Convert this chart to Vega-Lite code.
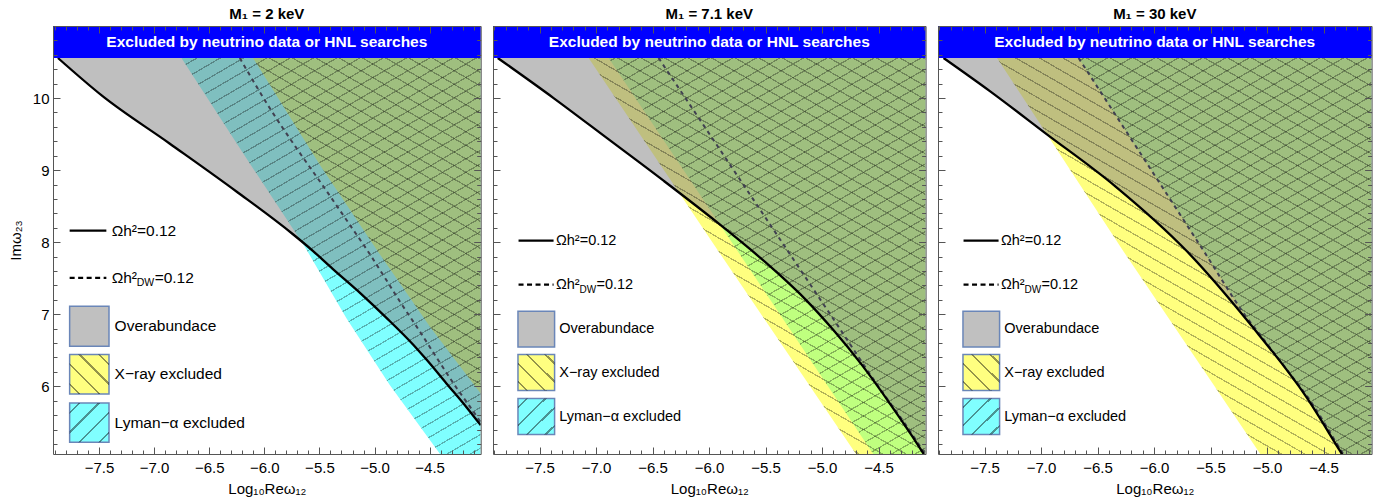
{
"$schema": "https://vega.github.io/schema/vega-lite/v6.json",
"padding": {"left": 8, "top": 6, "right": 5, "bottom": 3},
"background": "white",
"spacing": 12,
"bounds": "flush",
"params": [
{"name": "gF", "value": {"gradient": "linear", "x1": 0, "y1": 0, "x2": 0.6872, "y2": 1.1819, "stops": [
{"offset":0.01,"color":"transparent"},{"offset":0.01,"color":"rgba(0,0,0,.3)"},{"offset":0.0121,"color":"rgba(0,0,0,.3)"},{"offset":0.0121,"color":"transparent"},
{"offset":0.03,"color":"transparent"},{"offset":0.03,"color":"rgba(0,0,0,.3)"},{"offset":0.0321,"color":"rgba(0,0,0,.3)"},{"offset":0.0321,"color":"transparent"},
{"offset":0.05,"color":"transparent"},{"offset":0.05,"color":"rgba(0,0,0,.3)"},{"offset":0.0521,"color":"rgba(0,0,0,.3)"},{"offset":0.0521,"color":"transparent"},
{"offset":0.07,"color":"transparent"},{"offset":0.07,"color":"rgba(0,0,0,.3)"},{"offset":0.0721,"color":"rgba(0,0,0,.3)"},{"offset":0.0721,"color":"transparent"},
{"offset":0.09,"color":"transparent"},{"offset":0.09,"color":"rgba(0,0,0,.3)"},{"offset":0.0921,"color":"rgba(0,0,0,.3)"},{"offset":0.0921,"color":"transparent"},
{"offset":0.11,"color":"transparent"},{"offset":0.11,"color":"rgba(0,0,0,.3)"},{"offset":0.1121,"color":"rgba(0,0,0,.3)"},{"offset":0.1121,"color":"transparent"},
{"offset":0.13,"color":"transparent"},{"offset":0.13,"color":"rgba(0,0,0,.3)"},{"offset":0.1321,"color":"rgba(0,0,0,.3)"},{"offset":0.1321,"color":"transparent"},
{"offset":0.15,"color":"transparent"},{"offset":0.15,"color":"rgba(0,0,0,.3)"},{"offset":0.1521,"color":"rgba(0,0,0,.3)"},{"offset":0.1521,"color":"transparent"},
{"offset":0.17,"color":"transparent"},{"offset":0.17,"color":"rgba(0,0,0,.3)"},{"offset":0.1721,"color":"rgba(0,0,0,.3)"},{"offset":0.1721,"color":"transparent"},
{"offset":0.19,"color":"transparent"},{"offset":0.19,"color":"rgba(0,0,0,.3)"},{"offset":0.1921,"color":"rgba(0,0,0,.3)"},{"offset":0.1921,"color":"transparent"},
{"offset":0.21,"color":"transparent"},{"offset":0.21,"color":"rgba(0,0,0,.3)"},{"offset":0.2121,"color":"rgba(0,0,0,.3)"},{"offset":0.2121,"color":"transparent"},
{"offset":0.23,"color":"transparent"},{"offset":0.23,"color":"rgba(0,0,0,.3)"},{"offset":0.2321,"color":"rgba(0,0,0,.3)"},{"offset":0.2321,"color":"transparent"},
{"offset":0.25,"color":"transparent"},{"offset":0.25,"color":"rgba(0,0,0,.3)"},{"offset":0.2521,"color":"rgba(0,0,0,.3)"},{"offset":0.2521,"color":"transparent"},
{"offset":0.27,"color":"transparent"},{"offset":0.27,"color":"rgba(0,0,0,.3)"},{"offset":0.2721,"color":"rgba(0,0,0,.3)"},{"offset":0.2721,"color":"transparent"},
{"offset":0.29,"color":"transparent"},{"offset":0.29,"color":"rgba(0,0,0,.3)"},{"offset":0.2921,"color":"rgba(0,0,0,.3)"},{"offset":0.2921,"color":"transparent"},
{"offset":0.31,"color":"transparent"},{"offset":0.31,"color":"rgba(0,0,0,.3)"},{"offset":0.3121,"color":"rgba(0,0,0,.3)"},{"offset":0.3121,"color":"transparent"},
{"offset":0.33,"color":"transparent"},{"offset":0.33,"color":"rgba(0,0,0,.3)"},{"offset":0.3321,"color":"rgba(0,0,0,.3)"},{"offset":0.3321,"color":"transparent"},
{"offset":0.35,"color":"transparent"},{"offset":0.35,"color":"rgba(0,0,0,.3)"},{"offset":0.3521,"color":"rgba(0,0,0,.3)"},{"offset":0.3521,"color":"transparent"},
{"offset":0.37,"color":"transparent"},{"offset":0.37,"color":"rgba(0,0,0,.3)"},{"offset":0.3721,"color":"rgba(0,0,0,.3)"},{"offset":0.3721,"color":"transparent"},
{"offset":0.39,"color":"transparent"},{"offset":0.39,"color":"rgba(0,0,0,.3)"},{"offset":0.3921,"color":"rgba(0,0,0,.3)"},{"offset":0.3921,"color":"transparent"},
{"offset":0.41,"color":"transparent"},{"offset":0.41,"color":"rgba(0,0,0,.3)"},{"offset":0.4121,"color":"rgba(0,0,0,.3)"},{"offset":0.4121,"color":"transparent"},
{"offset":0.43,"color":"transparent"},{"offset":0.43,"color":"rgba(0,0,0,.3)"},{"offset":0.4321,"color":"rgba(0,0,0,.3)"},{"offset":0.4321,"color":"transparent"},
{"offset":0.45,"color":"transparent"},{"offset":0.45,"color":"rgba(0,0,0,.3)"},{"offset":0.4521,"color":"rgba(0,0,0,.3)"},{"offset":0.4521,"color":"transparent"},
{"offset":0.47,"color":"transparent"},{"offset":0.47,"color":"rgba(0,0,0,.3)"},{"offset":0.4721,"color":"rgba(0,0,0,.3)"},{"offset":0.4721,"color":"transparent"},
{"offset":0.49,"color":"transparent"},{"offset":0.49,"color":"rgba(0,0,0,.3)"},{"offset":0.4921,"color":"rgba(0,0,0,.3)"},{"offset":0.4921,"color":"transparent"},
{"offset":0.51,"color":"transparent"},{"offset":0.51,"color":"rgba(0,0,0,.3)"},{"offset":0.5121,"color":"rgba(0,0,0,.3)"},{"offset":0.5121,"color":"transparent"},
{"offset":0.53,"color":"transparent"},{"offset":0.53,"color":"rgba(0,0,0,.3)"},{"offset":0.5321,"color":"rgba(0,0,0,.3)"},{"offset":0.5321,"color":"transparent"},
{"offset":0.55,"color":"transparent"},{"offset":0.55,"color":"rgba(0,0,0,.3)"},{"offset":0.5521,"color":"rgba(0,0,0,.3)"},{"offset":0.5521,"color":"transparent"},
{"offset":0.57,"color":"transparent"},{"offset":0.57,"color":"rgba(0,0,0,.3)"},{"offset":0.5721,"color":"rgba(0,0,0,.3)"},{"offset":0.5721,"color":"transparent"},
{"offset":0.59,"color":"transparent"},{"offset":0.59,"color":"rgba(0,0,0,.3)"},{"offset":0.5921,"color":"rgba(0,0,0,.3)"},{"offset":0.5921,"color":"transparent"},
{"offset":0.61,"color":"transparent"},{"offset":0.61,"color":"rgba(0,0,0,.3)"},{"offset":0.6121,"color":"rgba(0,0,0,.3)"},{"offset":0.6121,"color":"transparent"},
{"offset":0.63,"color":"transparent"},{"offset":0.63,"color":"rgba(0,0,0,.3)"},{"offset":0.6321,"color":"rgba(0,0,0,.3)"},{"offset":0.6321,"color":"transparent"},
{"offset":0.65,"color":"transparent"},{"offset":0.65,"color":"rgba(0,0,0,.3)"},{"offset":0.6521,"color":"rgba(0,0,0,.3)"},{"offset":0.6521,"color":"transparent"},
{"offset":0.67,"color":"transparent"},{"offset":0.67,"color":"rgba(0,0,0,.3)"},{"offset":0.6721,"color":"rgba(0,0,0,.3)"},{"offset":0.6721,"color":"transparent"},
{"offset":0.69,"color":"transparent"},{"offset":0.69,"color":"rgba(0,0,0,.3)"},{"offset":0.6921,"color":"rgba(0,0,0,.3)"},{"offset":0.6921,"color":"transparent"},
{"offset":0.71,"color":"transparent"},{"offset":0.71,"color":"rgba(0,0,0,.3)"},{"offset":0.7121,"color":"rgba(0,0,0,.3)"},{"offset":0.7121,"color":"transparent"},
{"offset":0.73,"color":"transparent"},{"offset":0.73,"color":"rgba(0,0,0,.3)"},{"offset":0.7321,"color":"rgba(0,0,0,.3)"},{"offset":0.7321,"color":"transparent"},
{"offset":0.75,"color":"transparent"},{"offset":0.75,"color":"rgba(0,0,0,.3)"},{"offset":0.7521,"color":"rgba(0,0,0,.3)"},{"offset":0.7521,"color":"transparent"},
{"offset":0.77,"color":"transparent"},{"offset":0.77,"color":"rgba(0,0,0,.3)"},{"offset":0.7721,"color":"rgba(0,0,0,.3)"},{"offset":0.7721,"color":"transparent"},
{"offset":0.79,"color":"transparent"},{"offset":0.79,"color":"rgba(0,0,0,.3)"},{"offset":0.7921,"color":"rgba(0,0,0,.3)"},{"offset":0.7921,"color":"transparent"},
{"offset":0.81,"color":"transparent"},{"offset":0.81,"color":"rgba(0,0,0,.3)"},{"offset":0.8121,"color":"rgba(0,0,0,.3)"},{"offset":0.8121,"color":"transparent"},
{"offset":0.83,"color":"transparent"},{"offset":0.83,"color":"rgba(0,0,0,.3)"},{"offset":0.8321,"color":"rgba(0,0,0,.3)"},{"offset":0.8321,"color":"transparent"},
{"offset":0.85,"color":"transparent"},{"offset":0.85,"color":"rgba(0,0,0,.3)"},{"offset":0.8521,"color":"rgba(0,0,0,.3)"},{"offset":0.8521,"color":"transparent"},
{"offset":0.87,"color":"transparent"},{"offset":0.87,"color":"rgba(0,0,0,.3)"},{"offset":0.8721,"color":"rgba(0,0,0,.3)"},{"offset":0.8721,"color":"transparent"},
{"offset":0.89,"color":"transparent"},{"offset":0.89,"color":"rgba(0,0,0,.3)"},{"offset":0.8921,"color":"rgba(0,0,0,.3)"},{"offset":0.8921,"color":"transparent"},
{"offset":0.91,"color":"transparent"},{"offset":0.91,"color":"rgba(0,0,0,.3)"},{"offset":0.9121,"color":"rgba(0,0,0,.3)"},{"offset":0.9121,"color":"transparent"},
{"offset":0.93,"color":"transparent"},{"offset":0.93,"color":"rgba(0,0,0,.3)"},{"offset":0.9321,"color":"rgba(0,0,0,.3)"},{"offset":0.9321,"color":"transparent"},
{"offset":0.95,"color":"transparent"},{"offset":0.95,"color":"rgba(0,0,0,.3)"},{"offset":0.9521,"color":"rgba(0,0,0,.3)"},{"offset":0.9521,"color":"transparent"},
{"offset":0.97,"color":"transparent"},{"offset":0.97,"color":"rgba(0,0,0,.3)"},{"offset":0.9721,"color":"rgba(0,0,0,.3)"},{"offset":0.9721,"color":"transparent"},
{"offset":0.99,"color":"transparent"},{"offset":0.99,"color":"rgba(0,0,0,.3)"},{"offset":0.9921,"color":"rgba(0,0,0,.3)"},{"offset":0.9921,"color":"transparent"}
]}},
{"name": "gB", "value": {"gradient": "linear", "x1": 0, "y1": 1, "x2": 0.6872, "y2": -0.1819, "stops": [
{"offset":0.01,"color":"transparent"},{"offset":0.01,"color":"rgba(0,0,0,.3)"},{"offset":0.0121,"color":"rgba(0,0,0,.3)"},{"offset":0.0121,"color":"transparent"},
{"offset":0.03,"color":"transparent"},{"offset":0.03,"color":"rgba(0,0,0,.3)"},{"offset":0.0321,"color":"rgba(0,0,0,.3)"},{"offset":0.0321,"color":"transparent"},
{"offset":0.05,"color":"transparent"},{"offset":0.05,"color":"rgba(0,0,0,.3)"},{"offset":0.0521,"color":"rgba(0,0,0,.3)"},{"offset":0.0521,"color":"transparent"},
{"offset":0.07,"color":"transparent"},{"offset":0.07,"color":"rgba(0,0,0,.3)"},{"offset":0.0721,"color":"rgba(0,0,0,.3)"},{"offset":0.0721,"color":"transparent"},
{"offset":0.09,"color":"transparent"},{"offset":0.09,"color":"rgba(0,0,0,.3)"},{"offset":0.0921,"color":"rgba(0,0,0,.3)"},{"offset":0.0921,"color":"transparent"},
{"offset":0.11,"color":"transparent"},{"offset":0.11,"color":"rgba(0,0,0,.3)"},{"offset":0.1121,"color":"rgba(0,0,0,.3)"},{"offset":0.1121,"color":"transparent"},
{"offset":0.13,"color":"transparent"},{"offset":0.13,"color":"rgba(0,0,0,.3)"},{"offset":0.1321,"color":"rgba(0,0,0,.3)"},{"offset":0.1321,"color":"transparent"},
{"offset":0.15,"color":"transparent"},{"offset":0.15,"color":"rgba(0,0,0,.3)"},{"offset":0.1521,"color":"rgba(0,0,0,.3)"},{"offset":0.1521,"color":"transparent"},
{"offset":0.17,"color":"transparent"},{"offset":0.17,"color":"rgba(0,0,0,.3)"},{"offset":0.1721,"color":"rgba(0,0,0,.3)"},{"offset":0.1721,"color":"transparent"},
{"offset":0.19,"color":"transparent"},{"offset":0.19,"color":"rgba(0,0,0,.3)"},{"offset":0.1921,"color":"rgba(0,0,0,.3)"},{"offset":0.1921,"color":"transparent"},
{"offset":0.21,"color":"transparent"},{"offset":0.21,"color":"rgba(0,0,0,.3)"},{"offset":0.2121,"color":"rgba(0,0,0,.3)"},{"offset":0.2121,"color":"transparent"},
{"offset":0.23,"color":"transparent"},{"offset":0.23,"color":"rgba(0,0,0,.3)"},{"offset":0.2321,"color":"rgba(0,0,0,.3)"},{"offset":0.2321,"color":"transparent"},
{"offset":0.25,"color":"transparent"},{"offset":0.25,"color":"rgba(0,0,0,.3)"},{"offset":0.2521,"color":"rgba(0,0,0,.3)"},{"offset":0.2521,"color":"transparent"},
{"offset":0.27,"color":"transparent"},{"offset":0.27,"color":"rgba(0,0,0,.3)"},{"offset":0.2721,"color":"rgba(0,0,0,.3)"},{"offset":0.2721,"color":"transparent"},
{"offset":0.29,"color":"transparent"},{"offset":0.29,"color":"rgba(0,0,0,.3)"},{"offset":0.2921,"color":"rgba(0,0,0,.3)"},{"offset":0.2921,"color":"transparent"},
{"offset":0.31,"color":"transparent"},{"offset":0.31,"color":"rgba(0,0,0,.3)"},{"offset":0.3121,"color":"rgba(0,0,0,.3)"},{"offset":0.3121,"color":"transparent"},
{"offset":0.33,"color":"transparent"},{"offset":0.33,"color":"rgba(0,0,0,.3)"},{"offset":0.3321,"color":"rgba(0,0,0,.3)"},{"offset":0.3321,"color":"transparent"},
{"offset":0.35,"color":"transparent"},{"offset":0.35,"color":"rgba(0,0,0,.3)"},{"offset":0.3521,"color":"rgba(0,0,0,.3)"},{"offset":0.3521,"color":"transparent"},
{"offset":0.37,"color":"transparent"},{"offset":0.37,"color":"rgba(0,0,0,.3)"},{"offset":0.3721,"color":"rgba(0,0,0,.3)"},{"offset":0.3721,"color":"transparent"},
{"offset":0.39,"color":"transparent"},{"offset":0.39,"color":"rgba(0,0,0,.3)"},{"offset":0.3921,"color":"rgba(0,0,0,.3)"},{"offset":0.3921,"color":"transparent"},
{"offset":0.41,"color":"transparent"},{"offset":0.41,"color":"rgba(0,0,0,.3)"},{"offset":0.4121,"color":"rgba(0,0,0,.3)"},{"offset":0.4121,"color":"transparent"},
{"offset":0.43,"color":"transparent"},{"offset":0.43,"color":"rgba(0,0,0,.3)"},{"offset":0.4321,"color":"rgba(0,0,0,.3)"},{"offset":0.4321,"color":"transparent"},
{"offset":0.45,"color":"transparent"},{"offset":0.45,"color":"rgba(0,0,0,.3)"},{"offset":0.4521,"color":"rgba(0,0,0,.3)"},{"offset":0.4521,"color":"transparent"},
{"offset":0.47,"color":"transparent"},{"offset":0.47,"color":"rgba(0,0,0,.3)"},{"offset":0.4721,"color":"rgba(0,0,0,.3)"},{"offset":0.4721,"color":"transparent"},
{"offset":0.49,"color":"transparent"},{"offset":0.49,"color":"rgba(0,0,0,.3)"},{"offset":0.4921,"color":"rgba(0,0,0,.3)"},{"offset":0.4921,"color":"transparent"},
{"offset":0.51,"color":"transparent"},{"offset":0.51,"color":"rgba(0,0,0,.3)"},{"offset":0.5121,"color":"rgba(0,0,0,.3)"},{"offset":0.5121,"color":"transparent"},
{"offset":0.53,"color":"transparent"},{"offset":0.53,"color":"rgba(0,0,0,.3)"},{"offset":0.5321,"color":"rgba(0,0,0,.3)"},{"offset":0.5321,"color":"transparent"},
{"offset":0.55,"color":"transparent"},{"offset":0.55,"color":"rgba(0,0,0,.3)"},{"offset":0.5521,"color":"rgba(0,0,0,.3)"},{"offset":0.5521,"color":"transparent"},
{"offset":0.57,"color":"transparent"},{"offset":0.57,"color":"rgba(0,0,0,.3)"},{"offset":0.5721,"color":"rgba(0,0,0,.3)"},{"offset":0.5721,"color":"transparent"},
{"offset":0.59,"color":"transparent"},{"offset":0.59,"color":"rgba(0,0,0,.3)"},{"offset":0.5921,"color":"rgba(0,0,0,.3)"},{"offset":0.5921,"color":"transparent"},
{"offset":0.61,"color":"transparent"},{"offset":0.61,"color":"rgba(0,0,0,.3)"},{"offset":0.6121,"color":"rgba(0,0,0,.3)"},{"offset":0.6121,"color":"transparent"},
{"offset":0.63,"color":"transparent"},{"offset":0.63,"color":"rgba(0,0,0,.3)"},{"offset":0.6321,"color":"rgba(0,0,0,.3)"},{"offset":0.6321,"color":"transparent"},
{"offset":0.65,"color":"transparent"},{"offset":0.65,"color":"rgba(0,0,0,.3)"},{"offset":0.6521,"color":"rgba(0,0,0,.3)"},{"offset":0.6521,"color":"transparent"},
{"offset":0.67,"color":"transparent"},{"offset":0.67,"color":"rgba(0,0,0,.3)"},{"offset":0.6721,"color":"rgba(0,0,0,.3)"},{"offset":0.6721,"color":"transparent"},
{"offset":0.69,"color":"transparent"},{"offset":0.69,"color":"rgba(0,0,0,.3)"},{"offset":0.6921,"color":"rgba(0,0,0,.3)"},{"offset":0.6921,"color":"transparent"},
{"offset":0.71,"color":"transparent"},{"offset":0.71,"color":"rgba(0,0,0,.3)"},{"offset":0.7121,"color":"rgba(0,0,0,.3)"},{"offset":0.7121,"color":"transparent"},
{"offset":0.73,"color":"transparent"},{"offset":0.73,"color":"rgba(0,0,0,.3)"},{"offset":0.7321,"color":"rgba(0,0,0,.3)"},{"offset":0.7321,"color":"transparent"},
{"offset":0.75,"color":"transparent"},{"offset":0.75,"color":"rgba(0,0,0,.3)"},{"offset":0.7521,"color":"rgba(0,0,0,.3)"},{"offset":0.7521,"color":"transparent"},
{"offset":0.77,"color":"transparent"},{"offset":0.77,"color":"rgba(0,0,0,.3)"},{"offset":0.7721,"color":"rgba(0,0,0,.3)"},{"offset":0.7721,"color":"transparent"},
{"offset":0.79,"color":"transparent"},{"offset":0.79,"color":"rgba(0,0,0,.3)"},{"offset":0.7921,"color":"rgba(0,0,0,.3)"},{"offset":0.7921,"color":"transparent"},
{"offset":0.81,"color":"transparent"},{"offset":0.81,"color":"rgba(0,0,0,.3)"},{"offset":0.8121,"color":"rgba(0,0,0,.3)"},{"offset":0.8121,"color":"transparent"},
{"offset":0.83,"color":"transparent"},{"offset":0.83,"color":"rgba(0,0,0,.3)"},{"offset":0.8321,"color":"rgba(0,0,0,.3)"},{"offset":0.8321,"color":"transparent"},
{"offset":0.85,"color":"transparent"},{"offset":0.85,"color":"rgba(0,0,0,.3)"},{"offset":0.8521,"color":"rgba(0,0,0,.3)"},{"offset":0.8521,"color":"transparent"},
{"offset":0.87,"color":"transparent"},{"offset":0.87,"color":"rgba(0,0,0,.3)"},{"offset":0.8721,"color":"rgba(0,0,0,.3)"},{"offset":0.8721,"color":"transparent"},
{"offset":0.89,"color":"transparent"},{"offset":0.89,"color":"rgba(0,0,0,.3)"},{"offset":0.8921,"color":"rgba(0,0,0,.3)"},{"offset":0.8921,"color":"transparent"},
{"offset":0.91,"color":"transparent"},{"offset":0.91,"color":"rgba(0,0,0,.3)"},{"offset":0.9121,"color":"rgba(0,0,0,.3)"},{"offset":0.9121,"color":"transparent"},
{"offset":0.93,"color":"transparent"},{"offset":0.93,"color":"rgba(0,0,0,.3)"},{"offset":0.9321,"color":"rgba(0,0,0,.3)"},{"offset":0.9321,"color":"transparent"},
{"offset":0.95,"color":"transparent"},{"offset":0.95,"color":"rgba(0,0,0,.3)"},{"offset":0.9521,"color":"rgba(0,0,0,.3)"},{"offset":0.9521,"color":"transparent"},
{"offset":0.97,"color":"transparent"},{"offset":0.97,"color":"rgba(0,0,0,.3)"},{"offset":0.9721,"color":"rgba(0,0,0,.3)"},{"offset":0.9721,"color":"transparent"},
{"offset":0.99,"color":"transparent"},{"offset":0.99,"color":"rgba(0,0,0,.3)"},{"offset":0.9921,"color":"rgba(0,0,0,.3)"},{"offset":0.9921,"color":"transparent"}
]}},
{"name": "sF", "value": {"gradient": "linear", "x1": 0, "y1": 0, "x2": 1, "y2": 1, "stops": [
{"offset":0.11,"color":"transparent"},{"offset":0.11,"color":"rgba(0,0,0,.42)"},{"offset":0.14,"color":"rgba(0,0,0,.42)"},{"offset":0.14,"color":"transparent"},
{"offset":0.36,"color":"transparent"},{"offset":0.36,"color":"rgba(0,0,0,.42)"},{"offset":0.39,"color":"rgba(0,0,0,.42)"},{"offset":0.39,"color":"transparent"},
{"offset":0.61,"color":"transparent"},{"offset":0.61,"color":"rgba(0,0,0,.42)"},{"offset":0.64,"color":"rgba(0,0,0,.42)"},{"offset":0.64,"color":"transparent"},
{"offset":0.86,"color":"transparent"},{"offset":0.86,"color":"rgba(0,0,0,.42)"},{"offset":0.89,"color":"rgba(0,0,0,.42)"},{"offset":0.89,"color":"transparent"}
]}},
{"name": "sB", "value": {"gradient": "linear", "x1": 0, "y1": 1, "x2": 1, "y2": 0, "stops": [
{"offset":0.11,"color":"transparent"},{"offset":0.11,"color":"rgba(0,0,0,.42)"},{"offset":0.14,"color":"rgba(0,0,0,.42)"},{"offset":0.14,"color":"transparent"},
{"offset":0.36,"color":"transparent"},{"offset":0.36,"color":"rgba(0,0,0,.42)"},{"offset":0.39,"color":"rgba(0,0,0,.42)"},{"offset":0.39,"color":"transparent"},
{"offset":0.61,"color":"transparent"},{"offset":0.61,"color":"rgba(0,0,0,.42)"},{"offset":0.64,"color":"rgba(0,0,0,.42)"},{"offset":0.64,"color":"transparent"},
{"offset":0.86,"color":"transparent"},{"offset":0.86,"color":"rgba(0,0,0,.42)"},{"offset":0.89,"color":"rgba(0,0,0,.42)"},{"offset":0.89,"color":"transparent"}
]}}
],
"datasets": {
"p1_black": [{"x":-7.872,"y":10.556},{"x":-7.47,"y":10.03},{"x":-6.86,"y":9.37},{"x":-6.25,"y":8.70},{"x":-5.74,"y":8.11},{"x":-5.56,"y":7.88},{"x":-5.38,"y":7.63},{"x":-5.12,"y":7.28},{"x":-4.892,"y":6.95},{"x":-4.651,"y":6.58},{"x":-4.529,"y":6.37},{"x":-4.348,"y":6.04},{"x":-4.166,"y":5.71},{"x":-4.037,"y":5.46}],
"p1_dash": [{"x":-6.223,"y":10.556},{"x":-5.951,"y":9.861},{"x":-5.709,"y":9.306},{"x":-5.467,"y":8.78},{"x":-5.225,"y":8.242},{"x":-5.059,"y":7.871},{"x":-4.923,"y":7.547},{"x":-4.77,"y":7.176},{"x":-4.589,"y":6.76},{"x":-4.438,"y":6.40},{"x":-4.257,"y":5.98},{"x":-4.136,"y":5.72},{"x":-4.037,"y":5.50}],
"p1_cyan": [{"y":5.06,"x":-4.406,"x2":-4.037},{"y":6.019,"x":-4.862,"x2":-4.037},{"y":6.944,"x":-5.255,"x2":-4.037},{"y":7.93,"x":-5.63,"x2":-4.037},{"y":9.25,"x":-6.2,"x2":-4.037},{"y":10.556,"x":-6.752,"x2":-4.037},{"y":11,"x":-7.917,"x2":-7.917}],
"p1_yellow": [{"y":5.06,"x":-4.037,"x2":-4.037},{"y":5.9,"x":-4.037,"x2":-4.037},{"y":6.83,"x":-4.499,"x2":-4.037},{"y":7.871,"x":-4.97,"x2":-4.037},{"y":9.075,"x":-5.497,"x2":-4.037},{"y":10.556,"x":-6.102,"x2":-4.037},{"y":11,"x":-7.917,"x2":-7.917}],
"p1_band": [{"x":-7.917,"x2":-4.037,"y":10.555,"y2":11,"cx":-5.977,"cy":10.778,"t":"Excluded by neutrino data or HNL searches"}],
"p1_sw": [{"k":"g","x":-7.766,"x2":-7.409,"y":6.555,"y2":7.11,"c":"#c0c0c0"},{"k":"y","x":-7.766,"x2":-7.409,"y":5.893,"y2":6.44,"c":"#ffff80"},{"k":"c","x":-7.766,"x2":-7.409,"y":5.223,"y2":5.769,"c":"#80ffff"}],
"p1_ln": [{"k":"s","x":-7.766,"x2":-7.433,"y":8.16},{"k":"d","x":-7.766,"x2":-7.433,"y":7.503}],
"p1_tx": [{"x":-7.385,"y":8.16,"t":"Ωh²=0.12"},{"x":-7.385,"y":7.503,"t":"Ωh²"},{"x":-7.358,"y":6.833,"t":"Overabundace"},{"x":-7.358,"y":6.167,"t":"X−ray excluded"},{"x":-7.358,"y":5.496,"t":"Lyman−α excluded"}],
"p1_dw": [{"x":-7.385,"y":7.503}],
"p2_black": [{"x":-7.87,"y":10.556},{"x":-7.376,"y":10.0},{"x":-6.9,"y":9.44},{"x":-6.4,"y":8.85},{"x":-5.9,"y":8.24},{"x":-5.65,"y":7.92},{"x":-5.4,"y":7.58},{"x":-5.15,"y":7.21},{"x":-4.9,"y":6.78},{"x":-4.65,"y":6.3},{"x":-4.4,"y":5.76},{"x":-4.2,"y":5.3},{"x":-4.084,"y":5.02}],
"p2_dash": [{"x":-6.447,"y":10.556},{"x":-5.842,"y":9.139},{"x":-5.341,"y":7.966},{"x":-4.9,"y":6.933},{"x":-4.47,"y":5.926},{"x":-4.275,"y":5.5},{"x":-4.105,"y":5.1},{"x":-4.084,"y":5.05}],
"p2_cyan": [{"y":5.06,"x":-4.547,"x2":-4.084},{"y":10.556,"x":-6.889,"x2":-4.084},{"y":11,"x":-7.912,"x2":-7.912}],
"p2_yellow": [{"y":5.06,"x":-4.7,"x2":-4.084},{"y":7.871,"x":-5.916,"x2":-4.084},{"y":10.556,"x":-7.066,"x2":-4.084},{"y":11,"x":-7.912,"x2":-7.912}],
"p2_band": [{"x":-7.912,"x2":-4.084,"y":10.555,"y2":11,"cx":-5.998,"cy":10.778,"t":"Excluded by neutrino data or HNL searches"}],
"p3_black": [{"x":-7.863,"y":10.556},{"x":-7.45,"y":10.093},{"x":-6.963,"y":9.514},{"x":-6.343,"y":8.775},{"x":-5.709,"y":7.873},{"x":-5.146,"y":6.856},{"x":-4.647,"y":5.838},{"x":-4.352,"y":5.095},{"x":-4.075,"y":4.4}],
"p3_dash": [{"x":-6.668,"y":10.556},{"x":-6.063,"y":9.093},{"x":-5.562,"y":7.88},{"x":-5.2,"y":7.0},{"x":-5.03,"y":6.65},{"x":-4.81,"y":6.2},{"x":-4.635,"y":5.838},{"x":-4.34,"y":5.095},{"x":-4.07,"y":4.42}],
"p3_cyan": [{"y":5.06,"x":-4.326,"x2":-4.075},{"y":5.095,"x":-4.34,"x2":-4.075},{"y":5.838,"x":-4.635,"x2":-4.075},{"y":6.2,"x":-4.81,"x2":-4.075},{"y":6.65,"x":-5.03,"x2":-4.075},{"y":7.0,"x":-5.2,"x2":-4.075},{"y":7.88,"x":-5.562,"x2":-4.075},{"y":9.093,"x":-6.063,"x2":-4.075},{"y":10.556,"x":-6.668,"x2":-4.075},{"y":11,"x":-7.912,"x2":-7.912}],
"p3_yellow": [{"y":5.06,"x":-5.06,"x2":-4.075},{"y":7.871,"x":-6.27,"x2":-4.075},{"y":10.556,"x":-7.39,"x2":-4.075},{"y":11,"x":-7.912,"x2":-7.912}],
"p3_band": [{"x":-7.912,"x2":-4.075,"y":10.555,"y2":11,"cx":-5.994,"cy":10.778,"t":"Excluded by neutrino data or HNL searches"}],
"l2_sw": [{"k":"g","x":-7.691,"x2":-7.367,"y":6.546,"y2":7.041,"c":"#c0c0c0"},{"k":"y","x":-7.691,"x2":-7.367,"y":5.941,"y2":6.44,"c":"#ffff80"},{"k":"c","x":-7.691,"x2":-7.367,"y":5.33,"y2":5.83,"c":"#80ffff"}],
"l2_ln": [{"k":"s","x":-7.686,"x2":-7.376,"y":8.022},{"k":"d","x":-7.686,"x2":-7.376,"y":7.411}],
"l2_tx": [{"x":-7.355,"y":8.022,"t":"Ωh²=0.12"},{"x":-7.355,"y":7.411,"t":"Ωh²"},{"x":-7.326,"y":6.79,"t":"Overabundace"},{"x":-7.326,"y":6.19,"t":"X−ray excluded"},{"x":-7.326,"y":5.58,"t":"Lyman−α excluded"}],
"l2_dw": [{"x":-7.355,"y":7.411}]
},
"hconcat": [
{
"width": 427.7, "height": 428,
"title": "M₁ = 2 keV",
"encoding": {"x":{"field":"x","type":"quantitative","scale":{"domain":[-7.917,-4.037],"nice":false,"zero":false},"axis":null},"y":{"field":"y","type":"quantitative","scale":{"domain":[5.06,11],"nice":false,"zero":false},"axis":null}},
"layer": [
{"data":{"name":"p1_cyan"},"mark":{"type":"area","orient":"horizontal","color":"#00ffff","fillOpacity":0.5,"clip":true},
 "encoding":{"x":{"field":"x","type":"quantitative","scale":{"domain":[-7.917,-4.037],"nice":false,"zero":false},"axis":{"orient":"bottom","values":[-7.5,-7,-6.5,-6,-5.5,-5,-4.5],"format":".1f","tickSize":-7,"labelPadding":13,"title":"Log₁₀Reω₁₂","titlePadding":6,"domain":true,"zindex":1}},
 "y":{"field":"y","type":"quantitative","scale":{"domain":[5.06,11],"nice":false,"zero":false},"axis":{"orient":"left","values":[6,7,8,9,10],"format":"d","tickSize":-7,"labelPadding":11,"title":"Imω₂₃","titlePadding":9,"domain":true,"zindex":1}},"x2":{"field":"x2"}}},
{"data":{"name":"p1_yellow"},"mark":{"type":"area","orient":"horizontal","color":"#ffff00","fillOpacity":0.5,"clip":true},
 "encoding":{"x":{"field":"x","type":"quantitative","scale":{"domain":[-7.917,-4.037],"nice":false,"zero":false},"axis":{"orient":"top","values":[-7.5,-7,-6.5,-6,-5.5,-5,-4.5],"tickSize":-7,"labels":false,"title":null,"domain":true,"zindex":1}},
 "y":{"field":"y","type":"quantitative","scale":{"domain":[5.06,11],"nice":false,"zero":false},"axis":{"orient":"right","values":[6,7,8,9,10],"tickSize":-7,"labels":false,"title":null,"domain":true,"zindex":1}},"x2":{"field":"x2"}}},
{"data":{"name":"p1_black"},"mark":{"type":"area","orient":"vertical","interpolate":"monotone","color":"#808080","fillOpacity":0.5,"clip":true},"encoding":{"y2":{"datum":11}}},
{"data":{"name":"p1_cyan"},"mark":{"type":"area","orient":"horizontal","fill":{"expr":"gF"},"clip":true},
 "encoding":{"x":{"field":"x","type":"quantitative","scale":{"domain":[-7.917,-4.037],"nice":false,"zero":false},"axis":{"orient":"bottom","values":[-7.9,-7.8,-7.7,-7.6,-7.4,-7.3,-7.2,-7.1,-6.9,-6.8,-6.7,-6.6,-6.4,-6.3,-6.2,-6.1,-5.9,-5.8,-5.7,-5.6,-5.4,-5.3,-5.2,-5.1,-4.9,-4.8,-4.7,-4.6,-4.4,-4.3,-4.2,-4.1],"tickSize":-4,"labels":false,"domain":false,"title":null,"zindex":1}},
 "y":{"field":"y","type":"quantitative","scale":{"domain":[5.06,11],"nice":false,"zero":false},"axis":{"orient":"left","values":[5.2,5.4,5.6,5.8,6.2,6.4,6.6,6.8,7.2,7.4,7.6,7.8,8.2,8.4,8.6,8.8,9.2,9.4,9.6,9.8,10.2,10.4,10.6,10.8],"tickSize":-4,"labels":false,"domain":false,"title":null,"zindex":1}},"x2":{"field":"x2"}}},
{"data":{"name":"p1_yellow"},"mark":{"type":"area","orient":"horizontal","fill":{"expr":"gB"},"clip":true},
 "encoding":{"x":{"field":"x","type":"quantitative","scale":{"domain":[-7.917,-4.037],"nice":false,"zero":false},"axis":{"orient":"top","values":[-7.9,-7.8,-7.7,-7.6,-7.4,-7.3,-7.2,-7.1,-6.9,-6.8,-6.7,-6.6,-6.4,-6.3,-6.2,-6.1,-5.9,-5.8,-5.7,-5.6,-5.4,-5.3,-5.2,-5.1,-4.9,-4.8,-4.7,-4.6,-4.4,-4.3,-4.2,-4.1],"tickSize":-4,"labels":false,"domain":false,"title":null,"zindex":1}},
 "y":{"field":"y","type":"quantitative","scale":{"domain":[5.06,11],"nice":false,"zero":false},"axis":{"orient":"right","values":[5.2,5.4,5.6,5.8,6.2,6.4,6.6,6.8,7.2,7.4,7.6,7.8,8.2,8.4,8.6,8.8,9.2,9.4,9.6,9.8,10.2,10.4,10.6,10.8],"tickSize":-4,"labels":false,"domain":false,"title":null,"zindex":1}},"x2":{"field":"x2"}}},
{"data":{"name":"p1_dash"},"mark":{"type":"line","interpolate":"monotone","color":"#404050","strokeWidth":2,"strokeDash":[4,4],"clip":true},"encoding":{}},
{"data":{"name":"p1_black"},"mark":{"type":"line","interpolate":"monotone","color":"#000000","strokeWidth":2.3,"clip":true},"encoding":{}},
{"data":{"name":"p1_band"},"mark":{"type":"rect","color":"#0000ff"},"encoding":{"x2":{"field":"x2"},"y2":{"field":"y2"}}},
{"data":{"name":"p1_band"},"mark":{"type":"text","color":"#ffffff","fontWeight":"bold","fontSize":15.5,"align":"center","baseline":"middle"},"encoding":{"x":{"field":"cx","type":"quantitative","scale":{"domain":[-7.917,-4.037],"nice":false,"zero":false},"axis":null},"y":{"field":"cy","type":"quantitative","scale":{"domain":[5.06,11],"nice":false,"zero":false},"axis":null},"text":{"field":"t"}}},
{"data":{"name":"p1_sw"},"mark":{"type":"rect","stroke":"#6a86b8","strokeWidth":1.5},"encoding":{"x2":{"field":"x2"},"y2":{"field":"y2"},"fill":{"field":"c","type":"nominal","scale":null}}},
{"data":{"name":"p1_sw"},"transform":[{"filter":"datum.k === 'y'"}],"mark":{"type":"rect","fill":{"expr":"sB"}},"encoding":{"x2":{"field":"x2"},"y2":{"field":"y2"}}},
{"data":{"name":"p1_sw"},"transform":[{"filter":"datum.k === 'c'"}],"mark":{"type":"rect","fill":{"expr":"sF"}},"encoding":{"x2":{"field":"x2"},"y2":{"field":"y2"}}},
{"data":{"name":"p1_ln"},"mark":{"type":"rule","color":"#000000","strokeWidth":2.2},"encoding":{"x2":{"field":"x2"},"strokeDash":{"field":"k","type":"nominal","scale":{"domain":["s","d"],"range":[[1,0],[5,3.5]]},"legend":null}}},
{"data":{"name":"p1_tx"},"mark":{"type":"text","align":"left","baseline":"middle","fontSize":15.5,"color":"#000000"},"encoding":{"text":{"field":"t"}}},
{"data":{"name":"p1_dw"},"mark":{"type":"text","text":"DW","align":"left","baseline":"middle","fontSize":10.5,"dx":25,"dy":5,"color":"#000000"},"encoding":{}},
{"data":{"name":"p1_dw"},"mark":{"type":"text","text":"=0.12","align":"left","baseline":"middle","fontSize":15.5,"dx":43,"color":"#000000"},"encoding":{}}
],
"resolve": {"axis": {"x": "independent", "y": "independent"}}
},
{
"width": 432.6, "height": 428,
"title": "M₁ = 7.1 keV",
"encoding": {"x":{"field":"x","type":"quantitative","scale":{"domain":[-7.912,-4.084],"nice":false,"zero":false},"axis":null},"y":{"field":"y","type":"quantitative","scale":{"domain":[5.06,11],"nice":false,"zero":false},"axis":null}},
"layer": [
{"data":{"name":"p2_cyan"},"mark":{"type":"area","orient":"horizontal","color":"#00ffff","fillOpacity":0.5,"clip":true},
 "encoding":{"x":{"field":"x","type":"quantitative","scale":{"domain":[-7.912,-4.084],"nice":false,"zero":false},"axis":{"orient":"bottom","values":[-7.5,-7,-6.5,-6,-5.5,-5,-4.5],"format":".1f","tickSize":-7,"labelPadding":13,"title":"Log₁₀Reω₁₂","titlePadding":6,"domain":true,"zindex":1}},
 "y":{"field":"y","type":"quantitative","scale":{"domain":[5.06,11],"nice":false,"zero":false},"axis":{"orient":"left","values":[6,7,8,9,10],"tickSize":-7,"labels":false,"title":null,"domain":true,"zindex":1}},"x2":{"field":"x2"}}},
{"data":{"name":"p2_yellow"},"mark":{"type":"area","orient":"horizontal","color":"#ffff00","fillOpacity":0.5,"clip":true},
 "encoding":{"x":{"field":"x","type":"quantitative","scale":{"domain":[-7.912,-4.084],"nice":false,"zero":false},"axis":{"orient":"top","values":[-7.5,-7,-6.5,-6,-5.5,-5,-4.5],"tickSize":-7,"labels":false,"title":null,"domain":true,"zindex":1}},
 "y":{"field":"y","type":"quantitative","scale":{"domain":[5.06,11],"nice":false,"zero":false},"axis":{"orient":"right","values":[6,7,8,9,10],"tickSize":-7,"labels":false,"title":null,"domain":true,"zindex":1}},"x2":{"field":"x2"}}},
{"data":{"name":"p2_black"},"mark":{"type":"area","orient":"vertical","interpolate":"monotone","color":"#808080","fillOpacity":0.5,"clip":true},"encoding":{"y2":{"datum":11}}},
{"data":{"name":"p2_cyan"},"mark":{"type":"area","orient":"horizontal","fill":{"expr":"gF"},"clip":true},
 "encoding":{"x":{"field":"x","type":"quantitative","scale":{"domain":[-7.912,-4.084],"nice":false,"zero":false},"axis":{"orient":"bottom","values":[-7.9,-7.8,-7.7,-7.6,-7.4,-7.3,-7.2,-7.1,-6.9,-6.8,-6.7,-6.6,-6.4,-6.3,-6.2,-6.1,-5.9,-5.8,-5.7,-5.6,-5.4,-5.3,-5.2,-5.1,-4.9,-4.8,-4.7,-4.6,-4.4,-4.3,-4.2,-4.1],"tickSize":-4,"labels":false,"domain":false,"title":null,"zindex":1}},
 "y":{"field":"y","type":"quantitative","scale":{"domain":[5.06,11],"nice":false,"zero":false},"axis":{"orient":"left","values":[5.2,5.4,5.6,5.8,6.2,6.4,6.6,6.8,7.2,7.4,7.6,7.8,8.2,8.4,8.6,8.8,9.2,9.4,9.6,9.8,10.2,10.4,10.6,10.8],"tickSize":-4,"labels":false,"domain":false,"title":null,"zindex":1}},"x2":{"field":"x2"}}},
{"data":{"name":"p2_yellow"},"mark":{"type":"area","orient":"horizontal","fill":{"expr":"gB"},"clip":true},
 "encoding":{"x":{"field":"x","type":"quantitative","scale":{"domain":[-7.912,-4.084],"nice":false,"zero":false},"axis":{"orient":"top","values":[-7.9,-7.8,-7.7,-7.6,-7.4,-7.3,-7.2,-7.1,-6.9,-6.8,-6.7,-6.6,-6.4,-6.3,-6.2,-6.1,-5.9,-5.8,-5.7,-5.6,-5.4,-5.3,-5.2,-5.1,-4.9,-4.8,-4.7,-4.6,-4.4,-4.3,-4.2,-4.1],"tickSize":-4,"labels":false,"domain":false,"title":null,"zindex":1}},
 "y":{"field":"y","type":"quantitative","scale":{"domain":[5.06,11],"nice":false,"zero":false},"axis":{"orient":"right","values":[5.2,5.4,5.6,5.8,6.2,6.4,6.6,6.8,7.2,7.4,7.6,7.8,8.2,8.4,8.6,8.8,9.2,9.4,9.6,9.8,10.2,10.4,10.6,10.8],"tickSize":-4,"labels":false,"domain":false,"title":null,"zindex":1}},"x2":{"field":"x2"}}},
{"data":{"name":"p2_dash"},"mark":{"type":"line","interpolate":"monotone","color":"#404050","strokeWidth":2,"strokeDash":[4,4],"clip":true},"encoding":{}},
{"data":{"name":"p2_black"},"mark":{"type":"line","interpolate":"monotone","color":"#000000","strokeWidth":2.3,"clip":true},"encoding":{}},
{"data":{"name":"p2_band"},"mark":{"type":"rect","color":"#0000ff"},"encoding":{"x2":{"field":"x2"},"y2":{"field":"y2"}}},
{"data":{"name":"p2_band"},"mark":{"type":"text","color":"#ffffff","fontWeight":"bold","fontSize":15.5,"align":"center","baseline":"middle"},"encoding":{"x":{"field":"cx","type":"quantitative","scale":{"domain":[-7.912,-4.084],"nice":false,"zero":false},"axis":null},"y":{"field":"cy","type":"quantitative","scale":{"domain":[5.06,11],"nice":false,"zero":false},"axis":null},"text":{"field":"t"}}},
{"data":{"name":"l2_sw"},"mark":{"type":"rect","stroke":"#6a86b8","strokeWidth":1.5},"encoding":{"x2":{"field":"x2"},"y2":{"field":"y2"},"fill":{"field":"c","type":"nominal","scale":null}}},
{"data":{"name":"l2_sw"},"transform":[{"filter":"datum.k === 'y'"}],"mark":{"type":"rect","fill":{"expr":"sB"}},"encoding":{"x2":{"field":"x2"},"y2":{"field":"y2"}}},
{"data":{"name":"l2_sw"},"transform":[{"filter":"datum.k === 'c'"}],"mark":{"type":"rect","fill":{"expr":"sF"}},"encoding":{"x2":{"field":"x2"},"y2":{"field":"y2"}}},
{"data":{"name":"l2_ln"},"mark":{"type":"rule","color":"#000000","strokeWidth":2.2},"encoding":{"x2":{"field":"x2"},"strokeDash":{"field":"k","type":"nominal","scale":{"domain":["s","d"],"range":[[1,0],[5,3.5]]},"legend":null}}},
{"data":{"name":"l2_tx"},"mark":{"type":"text","align":"left","baseline":"middle","fontSize":14.5,"color":"#000000"},"encoding":{"text":{"field":"t"}}},
{"data":{"name":"l2_dw"},"mark":{"type":"text","text":"DW","align":"left","baseline":"middle","fontSize":10,"dx":23.5,"dy":5,"color":"#000000"},"encoding":{}},
{"data":{"name":"l2_dw"},"mark":{"type":"text","text":"=0.12","align":"left","baseline":"middle","fontSize":14.5,"dx":40.5,"color":"#000000"},"encoding":{}}
],
"resolve": {"axis": {"x": "independent", "y": "independent"}}
},
{
"width": 433.6, "height": 428,
"title": "M₁ = 30 keV",
"encoding": {"x":{"field":"x","type":"quantitative","scale":{"domain":[-7.912,-4.075],"nice":false,"zero":false},"axis":null},"y":{"field":"y","type":"quantitative","scale":{"domain":[5.06,11],"nice":false,"zero":false},"axis":null}},
"layer": [
{"data":{"name":"p3_cyan"},"mark":{"type":"area","orient":"horizontal","color":"#00ffff","fillOpacity":0.5,"clip":true},
 "encoding":{"x":{"field":"x","type":"quantitative","scale":{"domain":[-7.912,-4.075],"nice":false,"zero":false},"axis":{"orient":"bottom","values":[-7.5,-7,-6.5,-6,-5.5,-5,-4.5],"format":".1f","tickSize":-7,"labelPadding":13,"title":"Log₁₀Reω₁₂","titlePadding":6,"domain":true,"zindex":1}},
 "y":{"field":"y","type":"quantitative","scale":{"domain":[5.06,11],"nice":false,"zero":false},"axis":{"orient":"left","values":[6,7,8,9,10],"tickSize":-7,"labels":false,"title":null,"domain":true,"zindex":1}},"x2":{"field":"x2"}}},
{"data":{"name":"p3_yellow"},"mark":{"type":"area","orient":"horizontal","color":"#ffff00","fillOpacity":0.5,"clip":true},
 "encoding":{"x":{"field":"x","type":"quantitative","scale":{"domain":[-7.912,-4.075],"nice":false,"zero":false},"axis":{"orient":"top","values":[-7.5,-7,-6.5,-6,-5.5,-5,-4.5],"tickSize":-7,"labels":false,"title":null,"domain":true,"zindex":1}},
 "y":{"field":"y","type":"quantitative","scale":{"domain":[5.06,11],"nice":false,"zero":false},"axis":{"orient":"right","values":[6,7,8,9,10],"tickSize":-7,"labels":false,"title":null,"domain":true,"zindex":1}},"x2":{"field":"x2"}}},
{"data":{"name":"p3_black"},"mark":{"type":"area","orient":"vertical","interpolate":"monotone","color":"#808080","fillOpacity":0.5,"clip":true},"encoding":{"y2":{"datum":11}}},
{"data":{"name":"p3_cyan"},"mark":{"type":"area","orient":"horizontal","fill":{"expr":"gF"},"clip":true},
 "encoding":{"x":{"field":"x","type":"quantitative","scale":{"domain":[-7.912,-4.075],"nice":false,"zero":false},"axis":{"orient":"bottom","values":[-7.9,-7.8,-7.7,-7.6,-7.4,-7.3,-7.2,-7.1,-6.9,-6.8,-6.7,-6.6,-6.4,-6.3,-6.2,-6.1,-5.9,-5.8,-5.7,-5.6,-5.4,-5.3,-5.2,-5.1,-4.9,-4.8,-4.7,-4.6,-4.4,-4.3,-4.2,-4.1],"tickSize":-4,"labels":false,"domain":false,"title":null,"zindex":1}},
 "y":{"field":"y","type":"quantitative","scale":{"domain":[5.06,11],"nice":false,"zero":false},"axis":{"orient":"left","values":[5.2,5.4,5.6,5.8,6.2,6.4,6.6,6.8,7.2,7.4,7.6,7.8,8.2,8.4,8.6,8.8,9.2,9.4,9.6,9.8,10.2,10.4,10.6,10.8],"tickSize":-4,"labels":false,"domain":false,"title":null,"zindex":1}},"x2":{"field":"x2"}}},
{"data":{"name":"p3_yellow"},"mark":{"type":"area","orient":"horizontal","fill":{"expr":"gB"},"clip":true},
 "encoding":{"x":{"field":"x","type":"quantitative","scale":{"domain":[-7.912,-4.075],"nice":false,"zero":false},"axis":{"orient":"top","values":[-7.9,-7.8,-7.7,-7.6,-7.4,-7.3,-7.2,-7.1,-6.9,-6.8,-6.7,-6.6,-6.4,-6.3,-6.2,-6.1,-5.9,-5.8,-5.7,-5.6,-5.4,-5.3,-5.2,-5.1,-4.9,-4.8,-4.7,-4.6,-4.4,-4.3,-4.2,-4.1],"tickSize":-4,"labels":false,"domain":false,"title":null,"zindex":1}},
 "y":{"field":"y","type":"quantitative","scale":{"domain":[5.06,11],"nice":false,"zero":false},"axis":{"orient":"right","values":[5.2,5.4,5.6,5.8,6.2,6.4,6.6,6.8,7.2,7.4,7.6,7.8,8.2,8.4,8.6,8.8,9.2,9.4,9.6,9.8,10.2,10.4,10.6,10.8],"tickSize":-4,"labels":false,"domain":false,"title":null,"zindex":1}},"x2":{"field":"x2"}}},
{"data":{"name":"p3_dash"},"mark":{"type":"line","interpolate":"monotone","color":"#404050","strokeWidth":2,"strokeDash":[4,4],"clip":true},"encoding":{}},
{"data":{"name":"p3_black"},"mark":{"type":"line","interpolate":"monotone","color":"#000000","strokeWidth":2.3,"clip":true},"encoding":{}},
{"data":{"name":"p3_band"},"mark":{"type":"rect","color":"#0000ff"},"encoding":{"x2":{"field":"x2"},"y2":{"field":"y2"}}},
{"data":{"name":"p3_band"},"mark":{"type":"text","color":"#ffffff","fontWeight":"bold","fontSize":15.5,"align":"center","baseline":"middle"},"encoding":{"x":{"field":"cx","type":"quantitative","scale":{"domain":[-7.912,-4.075],"nice":false,"zero":false},"axis":null},"y":{"field":"cy","type":"quantitative","scale":{"domain":[5.06,11],"nice":false,"zero":false},"axis":null},"text":{"field":"t"}}},
{"data":{"name":"l2_sw"},"mark":{"type":"rect","stroke":"#6a86b8","strokeWidth":1.5},"encoding":{"x2":{"field":"x2"},"y2":{"field":"y2"},"fill":{"field":"c","type":"nominal","scale":null}}},
{"data":{"name":"l2_sw"},"transform":[{"filter":"datum.k === 'y'"}],"mark":{"type":"rect","fill":{"expr":"sB"}},"encoding":{"x2":{"field":"x2"},"y2":{"field":"y2"}}},
{"data":{"name":"l2_sw"},"transform":[{"filter":"datum.k === 'c'"}],"mark":{"type":"rect","fill":{"expr":"sF"}},"encoding":{"x2":{"field":"x2"},"y2":{"field":"y2"}}},
{"data":{"name":"l2_ln"},"mark":{"type":"rule","color":"#000000","strokeWidth":2.2},"encoding":{"x2":{"field":"x2"},"strokeDash":{"field":"k","type":"nominal","scale":{"domain":["s","d"],"range":[[1,0],[5,3.5]]},"legend":null}}},
{"data":{"name":"l2_tx"},"mark":{"type":"text","align":"left","baseline":"middle","fontSize":14.5,"color":"#000000"},"encoding":{"text":{"field":"t"}}},
{"data":{"name":"l2_dw"},"mark":{"type":"text","text":"DW","align":"left","baseline":"middle","fontSize":10,"dx":23.5,"dy":5,"color":"#000000"},"encoding":{}},
{"data":{"name":"l2_dw"},"mark":{"type":"text","text":"=0.12","align":"left","baseline":"middle","fontSize":14.5,"dx":40.5,"color":"#000000"},"encoding":{}}
],
"resolve": {"axis": {"x": "independent", "y": "independent"}}
}
],
"config": {
"view": {"stroke": null},
"font": "Liberation Sans",
"text": {"font": "Liberation Sans"},
"title": {"font": "Liberation Sans", "fontSize": 15, "fontWeight": "bold", "color": "#000000", "offset": 4, "anchor": "middle"},
"axis": {"grid": false, "tickColor": "#555555", "tickWidth": 1, "domainColor": "#555555", "domainWidth": 1, "labelFont": "Liberation Sans", "labelFontSize": 15, "labelColor": "#000000", "titleFont": "Liberation Sans", "titleFontSize": 15, "titleFontWeight": "normal", "titleColor": "#000000", "labelFlush": false, "labelOverlap": false, "labelBound": false}
}
}
